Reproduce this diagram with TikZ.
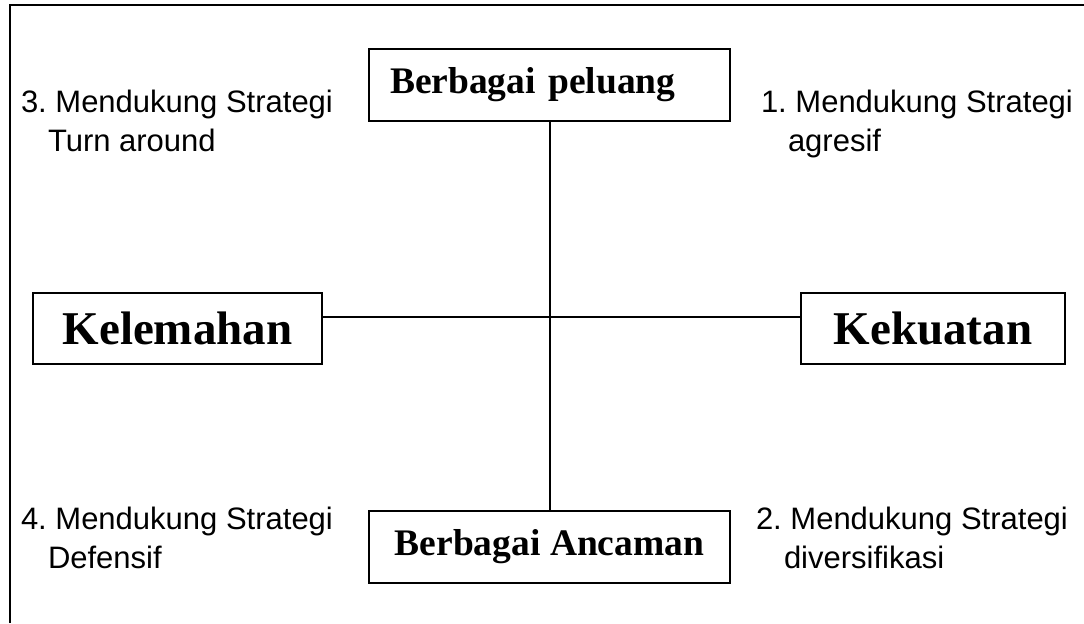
\documentclass[tikz,border=0pt]{standalone}
\usepackage{fontspec}
\setmainfont{Liberation Serif}
\setsansfont{Liberation Sans}
\frenchspacing
\usetikzlibrary{calc}
\tikzset{
  kotak/.style={draw, line width=1pt, inner sep=0pt, minimum height=36pt,
    font=\bfseries\fontsize{18.75}{22}\selectfont},
  kotakbesar/.style={kotak, minimum height=35.5pt,
    font=\bfseries\fontsize{23.5}{28}\selectfont},
  strategi/.style={anchor=base west, align=left, inner sep=0pt,
    font=\sffamily\fontsize{15.5}{19.5}\selectfont}
}

\begin{document}
\begin{tikzpicture}[x=0.5pt, y=-0.5pt, line width=1pt]
    \useasboundingbox (0,0) rectangle (1084,623);
    % bingkai luar
    \draw[line width=1.2pt] (10,623) -- (10,5) -- (1084,5);
    \node[kotak, text width=159.5pt, inner xsep=10.5pt, align=left] (peluang) at (549.5,84.5) {Berbagai peluang};
    \node[kotak, minimum width=180.5pt] (ancaman) at (549.5,547) {Berbagai Ancaman};
    \node[kotakbesar, minimum width=144.5pt] (kelemahan) at (177.5,328.5) {Kelemahan};
    \node[kotakbesar, minimum width=132pt] (kekuatan) at (933,328.5) {Kekuatan};
    \draw (peluang.south) -- (ancaman.north);
    \draw ([yshift=5.75pt]kelemahan.east) -- ([yshift=5.75pt]kekuatan.west);
    % baseline = baris terakhir
    \node[strategi] (s1) at (760,151) {1. Mendukung Strategi\\\hspace*{13.5pt}agresif};
    \node[strategi] (s2) at (755,568) {2. Mendukung Strategi\\\hspace*{14pt}diversifikasi};
    \node[strategi] (s3) at (20,151) {3. Mendukung Strategi\\\hspace*{13.5pt}Turn around};
    \node[strategi] (s4) at (20,568) {4. Mendukung Strategi\\\hspace*{13.5pt}Defensif};
\end{tikzpicture}
\end{document}
